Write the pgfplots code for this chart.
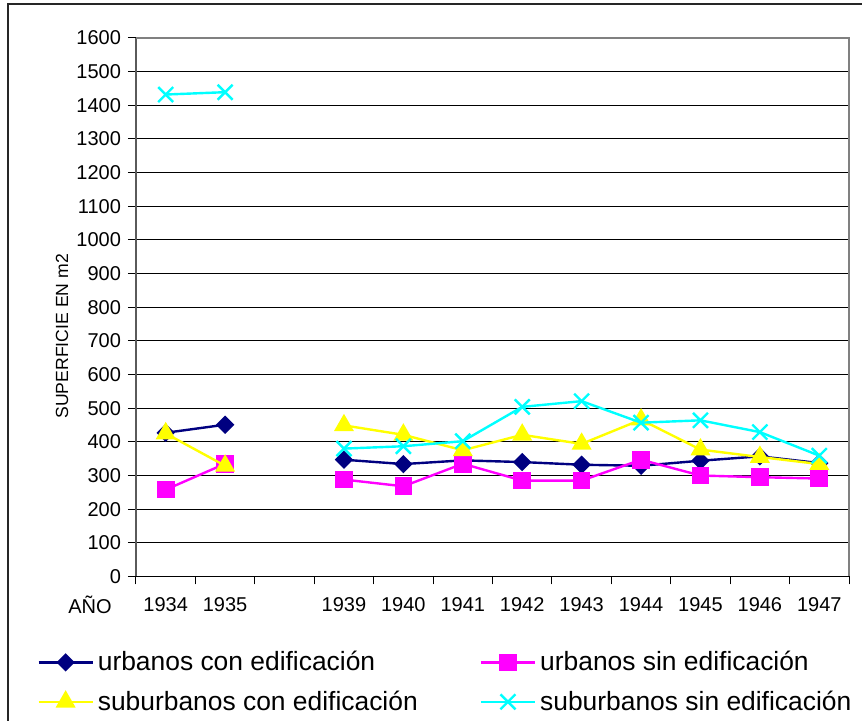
\documentclass[border=0pt]{standalone}
\usepackage{pgfplots}
\pgfplotsset{compat=1.18}
\usepackage{pgfplotstable}
\usepackage{fontspec}
\setmainfont{Liberation Sans}
\definecolor{cnavy}{RGB}{0,0,128}
\definecolor{cmag}{RGB}{255,0,255}
\definecolor{cyel}{RGB}{255,255,0}
\definecolor{ccyan}{RGB}{0,255,255}
\definecolor{cgray}{RGB}{128,128,128}
\pgfplotstableread{
x uce use sce sse
0 427 258 425 1432
1 451 335 329 1439
2 nan nan nan nan
3 347 288 449 380
4 334 268 421 387
5 345 335 375 402
6 340 285 421 504
7 332 285 394 521
8 329 347 466 457
9 344 300 377 464
10 357 295 355 429
11 337 291 334 359
}\datatab
\begin{document}
\begin{tikzpicture}
\useasboundingbox (-68pt,-72.25pt) rectangle (363pt,288.25pt);
\draw[line width=0.8pt, black!85] (-64pt,-72.25pt) -- (-64pt,286.25pt) -- (363pt,286.25pt);
\begin{axis}[
  at={(0,0)}, anchor=south west,
  scale only axis, width=356.5pt, height=269.25pt,
  xmin=-0.5, xmax=11.5, ymin=0, ymax=1600,
  clip mode=individual,
  xtick={-0.5,0.5,...,11.5}, xticklabels={},
  extra x ticks={0,1,3,4,5,6,7,8,9,10,11},
  extra x tick labels={1934,1935,1939,1940,1941,1942,1943,1944,1945,1946,1947},
  extra x tick style={tick style={draw=none}, grid=none, xticklabel style={yshift=-3pt}},
  ytick={0,100,...,1600},
  ymajorgrids,
  major grid style={black, line width=0.5pt},
  tick align=outside, major tick length=4pt,
  tick style={black, line width=0.5pt},
  axis x line*=bottom,
  axis y line*=left,
  x axis line style={black, line width=0.6pt},
  y axis line style={cgray!70!black, line width=1pt},
  /pgf/number format/assume math mode=true,
  /pgf/number format/1000 sep={},
  tick label style={font=\fontsize{10}{12}\selectfont},
  ylabel={SUPERFICIE EN m2},
  every axis y label/.style={at={(axis description cs:-0.1038,0.446)}, rotate=90, anchor=center, font=\fontsize{8.8}{10}\selectfont},
  unbounded coords=jump,
  legend columns=2,
  legend style={at={(axis description cs:-0.1472,-0.123)}, anchor=north west, draw=none, fill=none,
    font=\fontsize{13.2}{15}\selectfont, row sep=4.5pt,
    /tikz/every even column/.append style={column sep=29pt}},
  legend cell align=left,
  legend image code/.code={\draw[mark repeat=2,mark phase=2] plot coordinates {(0pt,0pt) (13.5pt,0pt) (27pt,0pt)};},
]
\addplot[cnavy, line width=1.2pt, mark=square*, mark size=2.65pt, mark options={rotate=45, solid, fill=cnavy}] table[x=x,y=uce] {\datatab};
\addlegendentry{urbanos con edificación}
\addplot[cmag, line width=1.2pt, mark=square*, mark size=3.8pt, mark options={solid, fill=cmag}] table[x=x,y=use] {\datatab};
\addlegendentry{urbanos sin edificación}
\addplot[cyel, line width=1.2pt, mark=triangle*, mark size=4.6pt, mark options={solid, fill=cyel}] table[x=x,y=sce] {\datatab};
\addlegendentry{suburbanos con edificación}
\addplot[ccyan, line width=1.2pt, mark=x, mark size=5.3pt, mark options={solid, line width=1.2pt}] table[x=x,y=sse] {\datatab};
\addlegendentry{suburbanos sin edificación}
\draw[cgray, line width=1pt] (rel axis cs:0,1) -- (rel axis cs:1,1) -- (rel axis cs:1,0);
\node[anchor=base, font=\fontsize{10}{12}\selectfont] at (axis description cs:-0.0645,-0.0678) {AÑO};
\end{axis}
\end{tikzpicture}
\end{document}
